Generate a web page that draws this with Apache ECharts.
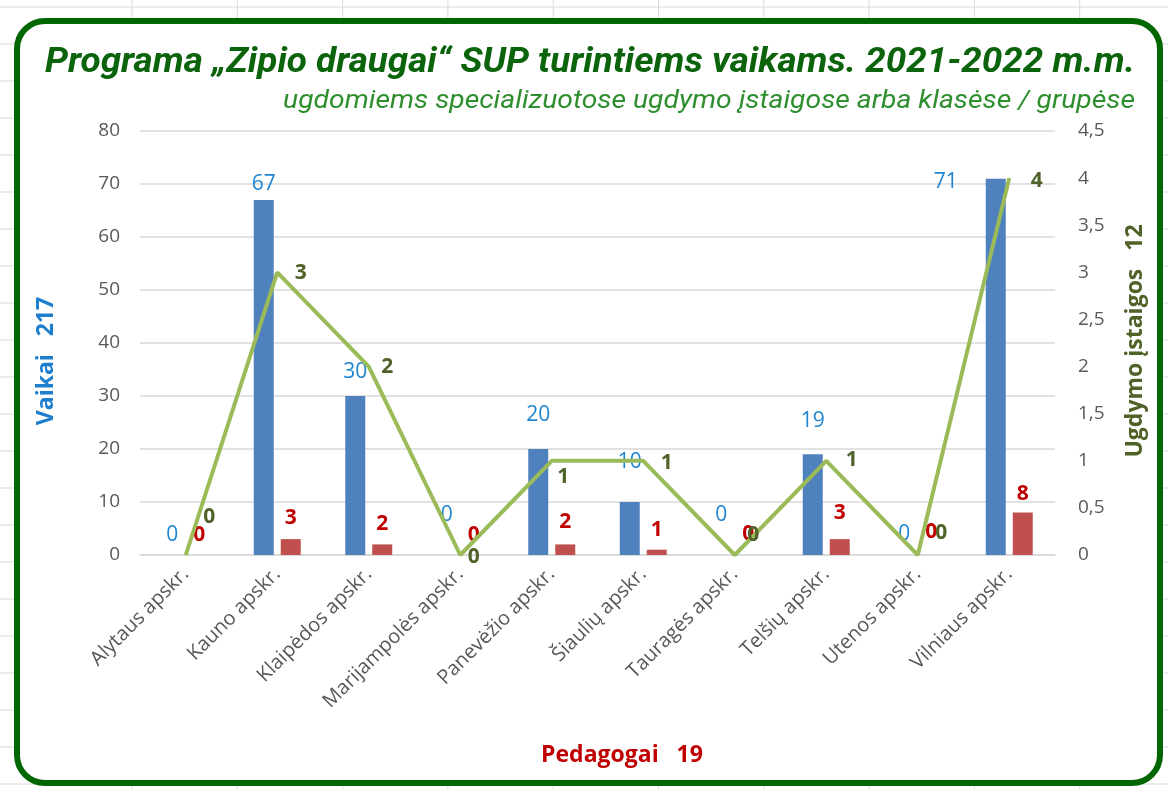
<!DOCTYPE html>
<html>
<head>
<meta charset="utf-8">
<script src="https://cdn.jsdelivr.net/npm/echarts@6/dist/echarts.min.js"></script>
<style>
  html, body { margin: 0; padding: 0; background: #fff; }
  #chart { width: 1168px; height: 789px; }
</style>
</head>
<body>
<div id="chart"></div>
<script>
// duomenys
var apskritys = ['Alytaus apskr.', 'Kauno apskr.', 'Klaipėdos apskr.', 'Marijampolės apskr.', 'Panevėžio apskr.',
  'Šiaulių apskr.', 'Tauragės apskr.', 'Telšių apskr.', 'Utenos apskr.', 'Vilniaus apskr.'];
var vaikai = [0, 67, 30, 0, 20, 10, 0, 19, 0, 71];
var pedagogai = [0, 3, 2, 0, 2, 1, 0, 3, 0, 8];
var istaigos = [0, 3, 2, 0, 1, 1, 0, 1, 0, 4];

var titleText = 'Programa „Zipio draugai“ SUP turintiems vaikams. 2021-2022 m.m.';
var subText = 'ugdomiems specializuotose ugdymo įstaigose arba klasėse / grupėse';
var vaikaiName = 'Vaikai   217';
var pedagogaiName = 'Pedagogai   19';
var istaigosName = 'Ugdymo įstaigos   12';

var chart = echarts.init(document.getElementById('chart'));

// teksto suspaudimas, kad atrodytų kaip siauras Calibri
var ctx = document.createElement('canvas').getContext('2d');
function squeeze(font, text, target) {
  ctx.font = font;
  return target / ctx.measureText(text).width;
}
var titleFont = 'italic bold 35px Roboto';
var subFont = 'italic 25px Roboto';

// etikečių išdėstymas kaip Excel'yje (rankiniai poslinkiai)
var blueGap = [9, 5, 13, 29, 23, 29, 29, 23, 10, 0];
var redGap = [9, 11, 10, 9, 12, 9, 10, 16, 12, 8];
var greenShift = [[17, -38], [17, 1], [12, 0], [7, 2], [5, 16], [17, 2], [12, -20], [19, -1], [17, -22], [21, 3]];

var blueData = vaikai.map(function (v, i) {
  var item = { value: v, label: { distance: blueGap[i] } };
  if (i === 9) item.label = { position: [-52, -7] };
  return item;
});
var redData = pedagogai.map(function (v, i) {
  return { value: v, label: { distance: redGap[i] } };
});
var greenData = istaigos.map(function (v, i) {
  return { value: v, label: { offset: greenShift[i] } };
});

// fonas: Excel lapo linijos ir žalias rėmelis
var bg = [];
for (var y = 7; y < 789; y += 37) {
  bg.push({ type: 'line', z: -10, silent: true, shape: { x1: 0, y1: y, x2: 1168, y2: y }, style: { stroke: '#d9d9d9', lineWidth: 1 } });
}
for (var x = 132; x < 1168; x += 105.3) {
  bg.push({ type: 'line', z: -10, silent: true, shape: { x1: x, y1: 0, x2: x, y2: 789 }, style: { stroke: '#d9d9d9', lineWidth: 1 } });
}
bg.push({
  type: 'rect', z: -9, silent: true,
  shape: { x: 17, y: 21, width: 1143, height: 762, r: 28 },
  style: { fill: '#fff', stroke: '#006600', lineWidth: 6 }
});

// antraštės ir ašių pavadinimai
bg.push({
  type: 'text', x: 590, y: 63, scaleX: squeeze(titleFont, titleText, 1090), silent: true,
  style: { text: titleText, font: titleFont, fill: '#0b640b', align: 'center', verticalAlign: 'middle' }
});
bg.push({
  type: 'text', x: 1135, y: 102, scaleX: squeeze(subFont, subText, 852), silent: true,
  style: { text: subText, font: subFont, fill: '#2f8f2f', align: 'right', verticalAlign: 'middle' }
});
bg.push({
  type: 'text', x: 46, y: 361, rotation: Math.PI / 2, silent: true,
  style: { text: vaikaiName, font: 'bold 23px "Open Sans"', fill: '#1f7fcf', align: 'center', verticalAlign: 'middle' }
});
bg.push({
  type: 'text', x: 1135, y: 341, rotation: Math.PI / 2, silent: true,
  style: { text: istaigosName, font: 'bold 23px "Open Sans"', fill: '#4f6228', align: 'center', verticalAlign: 'middle' }
});
bg.push({
  type: 'text', x: 622, y: 755, silent: true,
  style: { text: pedagogaiName, font: 'bold 23px "Open Sans"', fill: '#c00000', align: 'center', verticalAlign: 'middle' }
});

var option = {
  backgroundColor: '#fff',
  animation: false,
  graphic: bg,
  grid: { left: 140, right: 113, top: 131, bottom: 234, outerBoundsMode: 'none' },
  xAxis: {
    type: 'category',
    data: apskritys,
    axisTick: { show: false },
    axisLine: { show: true, lineStyle: { color: '#d9d9d9', width: 1.5 } },
    axisLabel: { rotate: 45, margin: 16, color: '#595959', fontSize: 20, fontFamily: 'Open Sans' }
  },
  yAxis: [{
    type: 'value',
    min: 0, max: 80, interval: 10,
    axisLabel: { margin: 20, color: '#595959', fontSize: 19, fontFamily: 'Open Sans' },
    splitLine: { lineStyle: { color: '#d9d9d9', width: 1.5 } },
    axisLine: { show: false },
    axisTick: { show: false }
  }, {
    type: 'value',
    min: 0, max: 4.5, interval: 0.5,
    position: 'right',
    axisLabel: {
      margin: 23, color: '#595959', fontSize: 19, fontFamily: 'Open Sans',
      formatter: function (v) { return String(v).replace('.', ','); }
    },
    splitLine: { show: false },
    axisLine: { show: false },
    axisTick: { show: false }
  }],
  series: [{
    name: 'Vaikai',
    type: 'bar',
    data: blueData,
    barWidth: 20,
    barGap: '35%',
    itemStyle: { color: '#4f81bd' },
    label: { show: true, position: 'top', color: '#1f85d0', fontSize: 21, fontFamily: 'Open Sans' }
  }, {
    name: 'Pedagogai',
    type: 'bar',
    data: redData,
    barWidth: 20,
    itemStyle: { color: '#c0504d' },
    label: { show: true, position: 'top', color: '#c00000', fontWeight: 'bold', fontSize: 21, fontFamily: 'Open Sans' }
  }, {
    name: 'Ugdymo įstaigos',
    type: 'line',
    yAxisIndex: 1,
    data: greenData,
    symbol: 'circle',
    symbolSize: 1,
    itemStyle: { color: '#9bbb59' },
    lineStyle: { color: '#9bbb59', width: 4 },
    label: { show: true, position: 'right', distance: 0, color: '#4f6228', fontWeight: 'bold', fontSize: 21, fontFamily: 'Open Sans' },
    z: 3
  }]
};

chart.setOption(option);
</script>
</body>
</html>
